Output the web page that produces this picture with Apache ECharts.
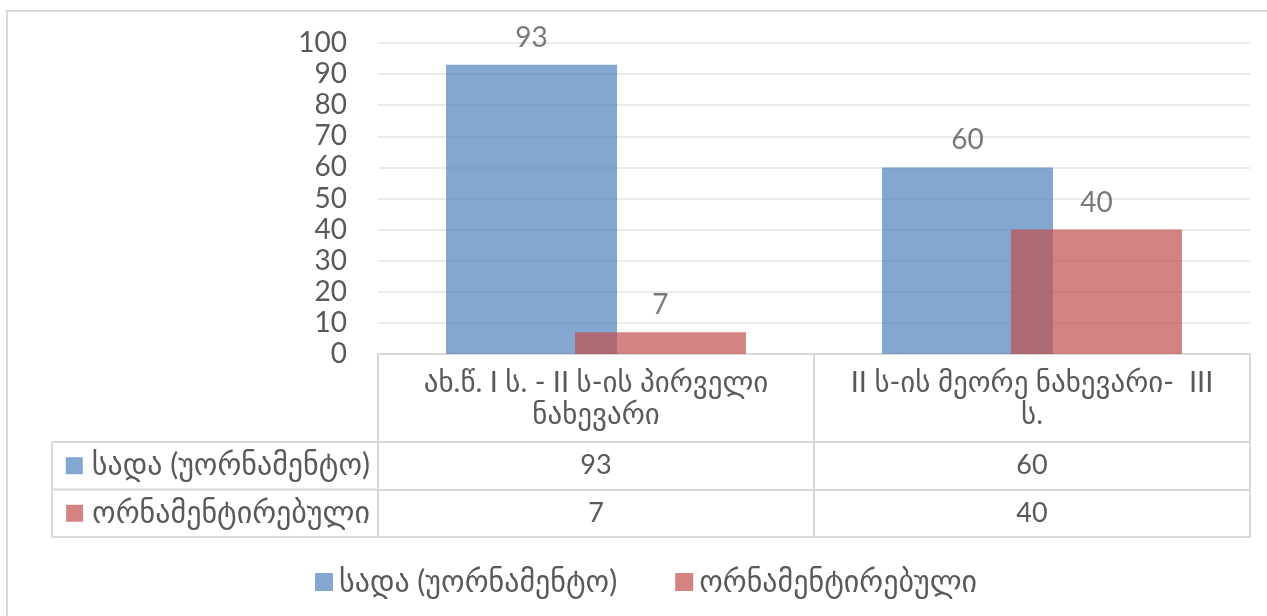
<!DOCTYPE html>
<html>
<head>
<meta charset="utf-8">
<script src="https://cdn.jsdelivr.net/npm/echarts@6/dist/echarts.min.js"></script>
<style>
  html, body { margin: 0; padding: 0; background: #fff; }
  #myChart { width: 1267px; height: 616px; }
</style>
</head>
<body>
<div id="myChart"></div>
<script>
// categories (header row of the data table, wrapped as in the original)
const categories = ['ახ.წ. I ს. - II ს-ის პირველი\nნახევარი', 'II ს-ის მეორე ნახევარი-  III\nს.'];
const seriesNames = ['სადა (უორნამენტო)', 'ორნამენტირებული'];
const plain = [93, 60];
const ornamented = [7, 40];
const yMax = 100;
const yStep = 10;

const colors = ['#4F81BD', '#C0504D'];
const font = 'Lato, "DejaVu Sans", sans-serif';
const textGrey = '#595959';
const lineGrey = '#d9d9d9';

// layout of plot area + data table
const gridLeft = 378;
const gridTop = 43;
const gridWidth = 872;
const gridHeight = 311;
const headerH = 88;
const rowH = 47.5;
const tableLeft = 52;

const axisBottom = gridTop + gridHeight;

function rowAxis(offset, values, name, color, last) {
  return {
    type: 'category',
    data: categories,
    position: 'bottom',
    offset: offset,
    axisLine: { show: true, lineStyle: { color: lineGrey, width: 2 } },
    axisTick: { show: !last, length: rowH, lineStyle: { color: lineGrey, width: 2 } },
    axisLabel: {
      show: !last,
      margin: 10,
      fontSize: 27,
      fontFamily: font,
      color: textGrey,
      formatter: (v, i) => (values ? String(values[i]) : '')
    },
    name: name ? '{k| }{t|' + name + '}' : '',
    nameLocation: 'start',
    nameGap: 8,
    nameTextStyle: {
      padding: [rowH, 0, 0, 0],
      rich: {
        k: { width: 17, height: 17, backgroundColor: color, opacity: 0.7 },
        t: { fontSize: 30, fontFamily: font, color: textGrey, padding: [0, 0, 0, 9] }
      }
    }
  };
}

const option = {
  animation: false,
  grid: { left: gridLeft, top: gridTop, width: gridWidth, height: gridHeight, containLabel: false },
  legend: {
    left: 310,
    top: 562,
    icon: 'rect',
    itemWidth: 18,
    itemHeight: 18,
    itemGap: 58,
    textStyle: { fontSize: 30, fontFamily: font, color: textGrey, padding: [0, 0, 0, 1] },
    data: seriesNames
  },
  xAxis: [
    {
      type: 'category',
      data: categories,
      position: 'bottom',
      axisLine: { show: true, lineStyle: { color: lineGrey, width: 2 } },
      axisTick: { show: true, length: headerH, lineStyle: { color: lineGrey, width: 2 } },
      axisLabel: {
        margin: 13,
        fontSize: 29,
        lineHeight: 32,
        fontFamily: font,
        color: textGrey,
        interval: 0
      }
    },
    rowAxis(headerH, plain, seriesNames[0], colors[0], false),
    rowAxis(headerH + rowH, ornamented, seriesNames[1], colors[1], false),
    rowAxis(headerH + rowH * 2, null, '', null, true)
  ],
  yAxis: {
    type: 'value',
    min: 0,
    max: yMax,
    interval: yStep,
    axisLine: { show: false },
    axisTick: { show: false },
    splitLine: { lineStyle: { color: '#ebebeb', width: 2 } },
    axisLabel: { fontSize: 28, fontFamily: font, color: textGrey, margin: 31 }
  },
  series: [
    {
      name: seriesNames[0],
      type: 'bar',
      data: plain,
      barWidth: 171,
      barGap: '-24.6%',
      itemStyle: { color: colors[0], opacity: 0.7 },
      label: { show: true, position: 'top', distance: 13, fontSize: 28, fontFamily: font, color: '#404040' }
    },
    {
      name: seriesNames[1],
      type: 'bar',
      data: ornamented,
      barWidth: 171,
      barGap: '-24.6%',
      itemStyle: { color: colors[1], opacity: 0.7 },
      label: { show: true, position: 'top', distance: 13, fontSize: 28, fontFamily: font, color: '#404040' }
    }
  ],
  graphic: [
    // outer chart border
    { type: 'rect', shape: { x: 7, y: 11, width: 1400, height: 800 }, style: { fill: 'none', stroke: lineGrey, lineWidth: 2 }, silent: true },
    // left column of the data table
    { type: 'line', shape: { x1: tableLeft, y1: axisBottom + headerH, x2: gridLeft, y2: axisBottom + headerH }, style: { stroke: lineGrey, lineWidth: 2 } },
    { type: 'line', shape: { x1: tableLeft, y1: axisBottom + headerH + rowH, x2: gridLeft, y2: axisBottom + headerH + rowH }, style: { stroke: lineGrey, lineWidth: 2 } },
    { type: 'line', shape: { x1: tableLeft, y1: axisBottom + headerH + rowH * 2, x2: gridLeft, y2: axisBottom + headerH + rowH * 2 }, style: { stroke: lineGrey, lineWidth: 2 } },
    { type: 'line', shape: { x1: tableLeft, y1: axisBottom + headerH, x2: tableLeft, y2: axisBottom + headerH + rowH * 2 }, style: { stroke: lineGrey, lineWidth: 2 } }
  ]
};

const myChart = echarts.init(document.getElementById('myChart'));
myChart.setOption(option, true);
</script>
</body>
</html>
